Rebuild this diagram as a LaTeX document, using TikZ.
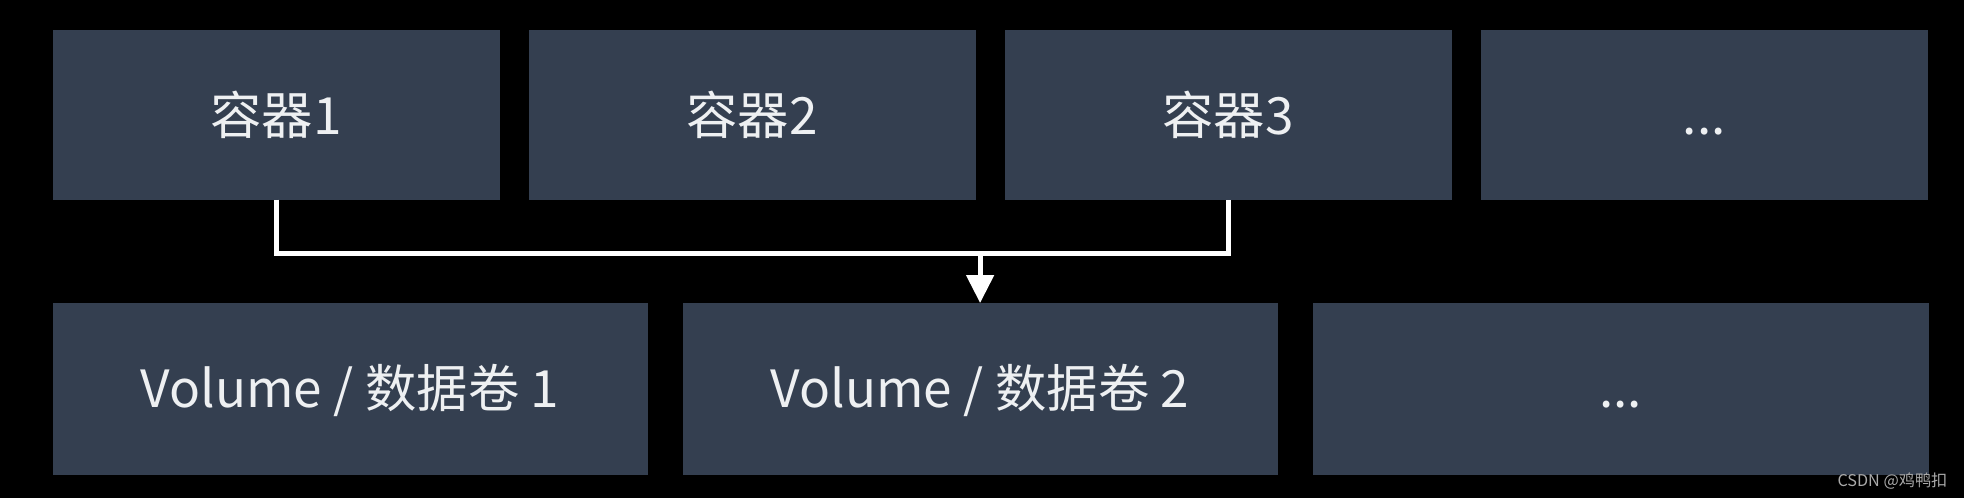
\documentclass[tikz,border=0pt]{standalone}
\usepackage{fontspec}
\setmainfont{Noto Sans CJK SC}
\usepackage{xcolor}
\usepackage{tikz}
\usetikzlibrary{arrows.meta,positioning}

\definecolor{boxfill}{RGB}{52,63,80}
\definecolor{boxtext}{RGB}{238,240,242}
\definecolor{marktext}{RGB}{170,170,170}

\begin{document}
\begin{tikzpicture}[
    node distance=0.29cm,
    cbox/.style={rectangle, fill=boxfill, text=boxtext, inner sep=0pt, outer sep=0pt, minimum width=4.47cm, minimum height=1.70cm, text height=0.5cm, text depth=0.11cm, font=\fontsize{14.6pt}{17pt}\selectfont},
    vbox/.style={cbox, minimum width=5.95cm, minimum height=1.72cm, text depth=0.14cm},
    link/.style={draw=white, line width=0.05cm},
    arrow/.style={link, -{Triangle[length=0.28cm, width=0.27cm]}},
    wmark/.style={font=\fontsize{4.6pt}{5.5pt}\selectfont, text=marktext, inner sep=0pt}
]

% Background
\fill[black] (0,0) rectangle (19.64,-4.98);

% Row 1: containers
\node[cbox, anchor=north west] (c1) at (0.526,-0.295) {容器1};
\node[cbox, right=of c1] (c2) {容器2};
\node[cbox, right=of c2] (c3) {容器3};
\node[cbox, right=of c3] (c4) {...};

% Row 2: volumes
\node[vbox, anchor=north west] (v1) at (0.526,-3.03) {Volume / 数据卷 1};
\node[vbox, right=0.35cm of v1] (v2) {Volume / 数据卷 2};
\node[vbox, right=0.35cm of v2, minimum width=6.16cm] (v3) {...};

% Arrows - shared volume
\coordinate (bus) at ([yshift=-0.535cm]c1.south);
\draw[link] (c1.south) -- (bus) -| (c3.south);
\draw[arrow] (bus -| v2.north) -- (v2.north);

% Watermark
\node[wmark, anchor=east] (wm) at (19.48,-4.81) {CSDN @鸡鸭扣};

\end{tikzpicture}
\end{document}
